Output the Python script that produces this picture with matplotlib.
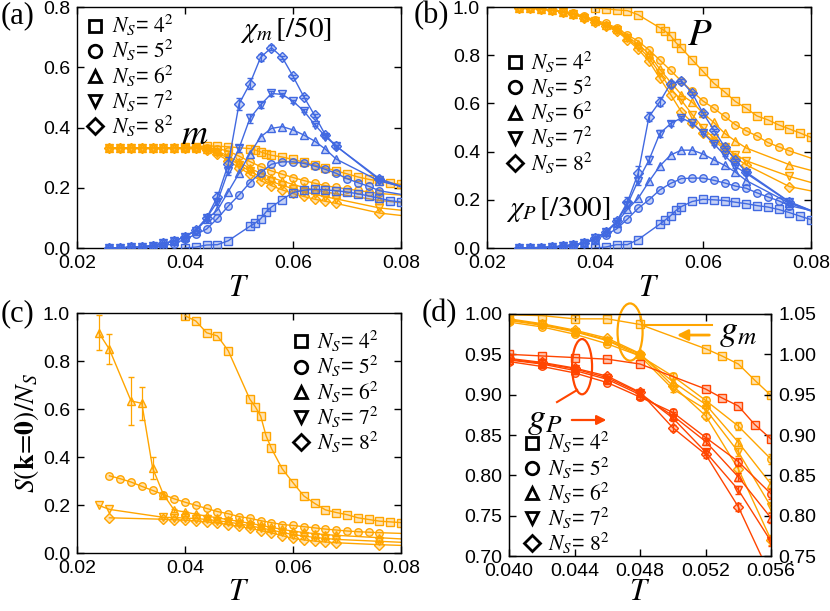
import matplotlib
matplotlib.use('Agg')
import matplotlib.pyplot as plt
from matplotlib.lines import Line2D
from matplotlib.patches import Ellipse
from matplotlib.colors import to_rgba

plt.rcParams['font.family'] = ['Liberation Sans', 'DejaVu Sans']
plt.rcParams['mathtext.fontset'] = 'stix'

ORANGE = '#FFA500'
BLUE = '#4169E1'
RED = '#FF4500'
SERIF = ['Liberation Serif', 'DejaVu Serif']

MARKERS = ['s', 'o', '^', 'v', 'D']
LEG_LABELS = [r'$N_S$= $4^2$', r'$N_S$= $5^2$', r'$N_S$= $6^2$',
              r'$N_S$= $7^2$', r'$N_S$= $8^2$']

# ---- temperature grids ----
T_4 = [0.040, 0.042, 0.044, 0.046, 0.048, 0.052, 0.053, 0.054, 0.055, 0.056,
       0.058, 0.060, 0.062, 0.064, 0.066, 0.068, 0.070, 0.072, 0.074, 0.076,
       0.078, 0.080]
T_5 = [0.026, 0.028, 0.030, 0.032, 0.034, 0.036, 0.038, 0.040, 0.042, 0.044,
       0.046, 0.048, 0.050, 0.052, 0.054, 0.056, 0.058, 0.060, 0.062, 0.064,
       0.066, 0.068, 0.070, 0.072, 0.074, 0.076, 0.084]
T_big = [0.026, 0.028, 0.030, 0.032, 0.034, 0.036, 0.038, 0.040, 0.042, 0.044,
         0.046, 0.048, 0.050, 0.052, 0.054, 0.056, 0.058, 0.060, 0.062, 0.064,
         0.066, 0.068, 0.076, 0.084]

# ---- (a) m and chi_m/50 ----
m_4 = [0.334, 0.336, 0.339, 0.338, 0.336, 0.330, 0.325, 0.319, 0.313, 0.308,
       0.302, 0.294, 0.285, 0.276, 0.266, 0.256, 0.246, 0.236, 0.228, 0.222,
       0.216, 0.211]
m_5 = [0.333, 0.333, 0.333, 0.333, 0.333, 0.333, 0.333, 0.333, 0.333, 0.332,
       0.330, 0.322, 0.305, 0.287, 0.270, 0.256, 0.245, 0.234, 0.224, 0.215,
       0.207, 0.201, 0.196, 0.191, 0.186, 0.181, 0.170]
m_6 = [0.333, 0.333, 0.333, 0.333, 0.333, 0.333, 0.333, 0.333, 0.333, 0.330,
       0.322, 0.305, 0.285, 0.265, 0.248, 0.234, 0.222, 0.211, 0.201, 0.193,
       0.186, 0.180, 0.158, 0.143]
m_7 = [0.333, 0.333, 0.333, 0.333, 0.333, 0.333, 0.333, 0.333, 0.333, 0.328,
       0.316, 0.298, 0.277, 0.255, 0.236, 0.221, 0.208, 0.197, 0.187, 0.178,
       0.170, 0.163, 0.133, 0.118]
m_8 = [0.333, 0.333, 0.333, 0.333, 0.333, 0.333, 0.333, 0.333, 0.333, 0.326,
       0.311, 0.290, 0.267, 0.245, 0.224, 0.207, 0.193, 0.181, 0.171, 0.162,
       0.155, 0.148, 0.116, 0.100]

chi_4 = [0.000, 0.003, 0.010, 0.011, 0.024, 0.072, 0.083, 0.097, 0.120, 0.136,
         0.161, 0.184, 0.192, 0.195, 0.193, 0.190, 0.186, 0.180, 0.173, 0.165,
         0.157, 0.153]
chi_5 = [0.000, 0.001, 0.002, 0.003, 0.005, 0.008, 0.014, 0.030, 0.045, 0.063,
         0.098, 0.139, 0.176, 0.217, 0.250, 0.278, 0.286, 0.286, 0.281, 0.272,
         0.261, 0.248, 0.230, 0.217, 0.205, 0.190, 0.166]
chi_6 = [0.000, 0.001, 0.002, 0.004, 0.008, 0.015, 0.023, 0.038, 0.058, 0.095,
         0.126, 0.187, 0.248, 0.313, 0.369, 0.397, 0.403, 0.392, 0.375, 0.355,
         0.328, 0.295, 0.222, 0.188]
chi_7 = [0.000, 0.001, 0.002, 0.004, 0.008, 0.015, 0.023, 0.038, 0.058, 0.100,
         0.154, 0.256, 0.331, 0.430, 0.475, 0.513, 0.510, 0.487, 0.455, 0.410,
         0.370, 0.338, 0.226, 0.180]
chi_8 = [0.000, 0.001, 0.002, 0.004, 0.008, 0.015, 0.023, 0.038, 0.060, 0.100,
         0.170, 0.278, 0.478, 0.545, 0.633, 0.665, 0.633, 0.570, 0.502, 0.440,
         0.375, 0.338, 0.230, 0.180]
chi_7_err = [0, 0, 0, 0, 0, 0, 0, 0, 0, 0.005, 0.01, 0.015, 0.012, 0.015,
             0.01, 0.008, 0.006, 0.006, 0.005, 0.005, 0.005, 0.005, 0.004, 0]
chi_8_err = [0, 0, 0, 0, 0, 0, 0, 0, 0, 0.006, 0.015, 0.025, 0.02, 0.018,
             0.012, 0.008, 0.006, 0.006, 0.005, 0.005, 0.005, 0.005, 0.004, 0]

# ---- (b) P and chi_P/300 ----
P_4 = [0.996, 0.993, 0.988, 0.985, 0.968, 0.914, 0.900, 0.881, 0.852, 0.830,
       0.781, 0.733, 0.684, 0.648, 0.608, 0.580, 0.548, 0.532, 0.511, 0.494,
       0.477, 0.459]
P_5 = [0.998, 0.996, 0.993, 0.988, 0.982, 0.974, 0.962, 0.946, 0.932, 0.914,
       0.885, 0.858, 0.822, 0.780, 0.737, 0.692, 0.650, 0.610, 0.580, 0.546,
       0.512, 0.486, 0.465, 0.438, 0.420, 0.403, 0.343]
P_6 = [0.998, 0.996, 0.992, 0.987, 0.980, 0.971, 0.958, 0.942, 0.926, 0.908,
       0.876, 0.846, 0.805, 0.742, 0.688, 0.636, 0.605, 0.560, 0.521, 0.476,
       0.444, 0.415, 0.346, 0.298]
P_7 = [0.998, 0.996, 0.992, 0.987, 0.980, 0.970, 0.956, 0.940, 0.923, 0.905,
       0.870, 0.835, 0.790, 0.725, 0.662, 0.613, 0.554, 0.498, 0.456, 0.418,
       0.388, 0.362, 0.297, 0.247]
P_8 = [0.998, 0.996, 0.992, 0.986, 0.979, 0.969, 0.955, 0.938, 0.920, 0.900,
       0.865, 0.825, 0.775, 0.705, 0.637, 0.565, 0.520, 0.478, 0.445, 0.410,
       0.375, 0.345, 0.255, 0.219]

cP_4 = [0.000, 0.004, 0.014, 0.014, 0.035, 0.099, 0.116, 0.134, 0.156, 0.172,
        0.193, 0.202, 0.200, 0.197, 0.190, 0.184, 0.176, 0.170, 0.160, 0.147,
        0.132, 0.118]
cP_5 = [0.000, 0.001, 0.002, 0.003, 0.006, 0.010, 0.020, 0.035, 0.055, 0.079,
        0.120, 0.165, 0.200, 0.241, 0.268, 0.288, 0.290, 0.290, 0.281, 0.270,
        0.257, 0.248, 0.229, 0.212, 0.196, 0.176, 0.135]
cP_6 = [0.000, 0.001, 0.002, 0.004, 0.008, 0.013, 0.022, 0.038, 0.065, 0.104,
        0.160, 0.206, 0.276, 0.340, 0.386, 0.406, 0.406, 0.390, 0.366, 0.343,
        0.315, 0.280, 0.186, 0.120]
cP_7 = [0.000, 0.001, 0.002, 0.004, 0.008, 0.013, 0.022, 0.040, 0.066, 0.108,
        0.180, 0.280, 0.365, 0.475, 0.516, 0.540, 0.518, 0.478, 0.433, 0.385,
        0.338, 0.310, 0.190, 0.120]
cP_8 = [0.000, 0.001, 0.002, 0.004, 0.008, 0.013, 0.022, 0.040, 0.066, 0.110,
        0.190, 0.310, 0.545, 0.607, 0.682, 0.693, 0.643, 0.560, 0.490, 0.420,
        0.365, 0.315, 0.192, 0.120]
cP_7_err = [0, 0, 0, 0, 0, 0, 0, 0, 0, 0.006, 0.012, 0.02, 0.015, 0.015,
            0.01, 0.008, 0.006, 0.006, 0.005, 0.005, 0.005, 0.005, 0.004, 0]
cP_8_err = [0, 0, 0, 0, 0, 0, 0, 0, 0, 0.008, 0.02, 0.03, 0.02, 0.018,
            0.012, 0.008, 0.006, 0.006, 0.005, 0.005, 0.005, 0.005, 0.004, 0]

# ---- (c) S(k=0)/N_S ----
T_c6 = [0.024, 0.026, 0.030, 0.032, 0.034, 0.036, 0.038, 0.040, 0.042, 0.044,
        0.046, 0.048, 0.050, 0.052, 0.054, 0.056, 0.058, 0.060, 0.062, 0.064,
        0.066, 0.068, 0.076, 0.084]
T_c7 = [0.024, 0.026, 0.036, 0.038, 0.040, 0.042, 0.044, 0.046, 0.048, 0.050,
        0.052, 0.054, 0.056, 0.058, 0.060, 0.062, 0.064, 0.066, 0.068, 0.076,
        0.084]
T_c8 = [0.026, 0.036, 0.038, 0.040, 0.042, 0.044, 0.046, 0.048, 0.050, 0.052,
        0.054, 0.056, 0.058, 0.060, 0.062, 0.064, 0.066, 0.068, 0.076, 0.084]
S_4 = [0.990, 0.968, 0.919, 0.906, 0.844, 0.642, 0.611, 0.572, 0.490, 0.437,
       0.352, 0.294, 0.239, 0.208, 0.181, 0.170, 0.161, 0.148, 0.141, 0.134,
       0.131, 0.128]
S_5 = [0.323, 0.311, 0.297, 0.279, 0.262, 0.245, 0.227, 0.213, 0.200, 0.187,
       0.174, 0.165, 0.153, 0.146, 0.136, 0.128, 0.120, 0.116, 0.111, 0.106,
       0.101, 0.097, 0.093, 0.090, 0.088, 0.086, 0.080]
S_6 = [0.920, 0.850, 0.635, 0.625, 0.355, 0.245, 0.180, 0.172, 0.163, 0.155,
       0.148, 0.140, 0.133, 0.125, 0.117, 0.108, 0.100, 0.092, 0.087, 0.082,
       0.078, 0.075, 0.065, 0.055]
S_6_err = [0.073, 0.062, 0.100, 0.068, 0.045, 0.010, 0.006, 0.004, 0.004,
           0.004, 0.003, 0.003, 0.003, 0.003, 0.003, 0.003, 0.003, 0.003,
           0.003, 0.003, 0.003, 0.003, 0.003, 0]
S_7 = [0.200, 0.183, 0.150, 0.149, 0.147, 0.145, 0.141, 0.136, 0.130, 0.123,
       0.115, 0.106, 0.097, 0.087, 0.078, 0.072, 0.066, 0.062, 0.058, 0.050,
       0.042]
S_8 = [0.148, 0.142, 0.140, 0.138, 0.135, 0.131, 0.126, 0.120, 0.112, 0.104,
       0.095, 0.085, 0.074, 0.062, 0.056, 0.051, 0.047, 0.044, 0.036, 0.030]

# ---- (d) Binder ratios: g_m on left axis, g_P on right axis ----
T_d4 = [0.040, 0.042, 0.044, 0.046, 0.048, 0.052, 0.053, 0.054, 0.055, 0.056]
T_d = [0.040, 0.042, 0.044, 0.046, 0.048, 0.050, 0.052, 0.054, 0.056]
gm_4 = [0.999, 0.998, 0.994, 0.994, 0.987, 0.957, 0.948, 0.938, 0.918, 0.899]
gm_5 = [0.990, 0.984, 0.975, 0.963, 0.948, 0.923, 0.893, 0.861, 0.820]
gm_6 = [0.993, 0.987, 0.979, 0.968, 0.950, 0.916, 0.888, 0.841, 0.789]
gm_7 = [0.992, 0.986, 0.978, 0.967, 0.948, 0.907, 0.882, 0.829, 0.761]
gm_8 = [0.994, 0.988, 0.980, 0.970, 0.951, 0.911, 0.874, 0.808, 0.720]
gP_4 = [1.000, 0.998, 0.996, 0.994, 0.988, 0.957, 0.946, 0.936, 0.913, 0.895]
gP_5 = [0.991, 0.985, 0.977, 0.965, 0.947, 0.928, 0.897, 0.867, 0.827]
gP_6 = [0.993, 0.988, 0.980, 0.969, 0.950, 0.924, 0.892, 0.848, 0.797]
gP_7 = [0.994, 0.989, 0.982, 0.971, 0.952, 0.921, 0.879, 0.832, 0.768]
gP_8 = [0.995, 0.990, 0.983, 0.973, 0.953, 0.909, 0.876, 0.811, 0.724]
g_err = [0.001, 0.001, 0.002, 0.002, 0.003, 0.004, 0.004, 0.005, 0.006]


def draw(ax, T, y, color, marker, yerr=None, z=2):
    ms = 4.6 if marker == 'D' else 5.4
    ax.errorbar(T, y, yerr=yerr, color=color, marker=marker, ms=ms,
                mfc=to_rgba(color, 0.3), mec=color, mew=1.0, lw=1.0,
                capsize=2.5, elinewidth=0.9, zorder=z)


def style(ax, xticks, yticks, xfmt, yfmt, labelpad=1):
    ax.set_xticks(xticks)
    ax.set_yticks(yticks)
    ax.set_xticklabels([xfmt % v for v in xticks])
    ax.set_yticklabels([yfmt % v for v in yticks])
    ax.tick_params(direction='in', top=True, right=True, length=5, width=1,
                   labelsize=14, pad=5)
    for s in ax.spines.values():
        s.set_linewidth(1.0)
    ax.set_xlabel('$T$', fontsize=22, labelpad=labelpad)


def legend(ax, anchor):
    handles = [Line2D([], [], ls='none', marker=m, color='k', mfc='none',
                      mew=2, ms=9 if m != 'D' else 8) for m in MARKERS]
    ax.legend(handles, LEG_LABELS, loc='upper left', bbox_to_anchor=anchor,
              frameon=False, fontsize=15.5, handlelength=0.8,
              handletextpad=0.35, labelspacing=0.0, borderpad=0,
              borderaxespad=0)


fig = plt.figure(figsize=(8.3, 6.11), dpi=100)
ax_a = fig.add_axes([0.0928, 0.5941, 0.3904, 0.3944])
ax_b = fig.add_axes([0.5867, 0.5941, 0.3904, 0.3944])
ax_c = fig.add_axes([0.0928, 0.0944, 0.3904, 0.3928])
ax_d = fig.add_axes([0.6133, 0.0900, 0.3157, 0.3961])

Tticks = [0.02, 0.04, 0.06, 0.08]

# (a)
for T, y, mk in zip([T_4, T_5, T_big, T_big, T_big],
                    [m_4, m_5, m_6, m_7, m_8], MARKERS):
    draw(ax_a, T, y, ORANGE, mk)
for T, y, e, mk in zip([T_4, T_5, T_big, T_big, T_big],
                       [chi_4, chi_5, chi_6, chi_7, chi_8],
                       [None, None, None, chi_7_err, chi_8_err], MARKERS):
    draw(ax_a, T, y, BLUE, mk, e, z=3)
ax_a.set_xlim(0.02, 0.08)
ax_a.set_ylim(0, 0.8)
style(ax_a, Tticks, [0, 0.2, 0.4, 0.6, 0.8], '%.2f', '%.1f')
legend(ax_a, (0.03, 0.975))
ax_a.text(0.645, 0.905, r'$\chi_m\,[/50]$', transform=ax_a.transAxes,
          fontsize=21, ha='center', va='center')
ax_a.text(0.364, 0.47, r'$m$', transform=ax_a.transAxes, fontsize=26,
          ha='center', va='center')

# (b)
for T, y, mk in zip([T_4, T_5, T_big, T_big, T_big],
                    [P_4, P_5, P_6, P_7, P_8], MARKERS):
    draw(ax_b, T, y, ORANGE, mk)
for T, y, e, mk in zip([T_4, T_5, T_big, T_big, T_big],
                       [cP_4, cP_5, cP_6, cP_7, cP_8],
                       [None, None, None, cP_7_err, cP_8_err], MARKERS):
    draw(ax_b, T, y, BLUE, mk, e, z=3)
ax_b.set_xlim(0.02, 0.08)
ax_b.set_ylim(0, 1.0)
style(ax_b, Tticks, [0, 0.2, 0.4, 0.6, 0.8, 1.0], '%.2f', '%.1f')
legend(ax_b, (0.06, 0.823))
ax_b.text(0.657, 0.884, r'$P$', transform=ax_b.transAxes, fontsize=28,
          ha='center', va='center')
ax_b.text(0.22, 0.158, r'$\chi_P\,[/300]$', transform=ax_b.transAxes,
          fontsize=21, ha='center', va='center')

# (c)
for T, y, e, mk in zip([T_4, T_5, T_c6, T_c7, T_c8],
                       [S_4, S_5, S_6, S_7, S_8],
                       [None, None, S_6_err, None, None], MARKERS):
    draw(ax_c, T, y, ORANGE, mk, e)
ax_c.set_xlim(0.02, 0.08)
ax_c.set_ylim(0, 1.0)
style(ax_c, Tticks, [0, 0.2, 0.4, 0.6, 0.8, 1.0], '%.2f', '%.1f', labelpad=0)
legend(ax_c, (0.665, 0.935))
ax_c.set_ylabel(r'$S(\mathbf{k}\!=\!\mathbf{0})/N_S$', fontsize=20,
                labelpad=1)

# (d)
ax_d2 = ax_d.twinx()
for T, y, e, mk in zip([T_d4, T_d, T_d, T_d, T_d],
                       [gm_4, gm_5, gm_6, gm_7, gm_8],
                       [None, g_err, g_err, g_err, g_err], MARKERS):
    draw(ax_d, T, y, ORANGE, mk, e)
for T, y, e, mk in zip([T_d4, T_d, T_d, T_d, T_d],
                       [gP_4, gP_5, gP_6, gP_7, gP_8],
                       [None, g_err, g_err, g_err, g_err], MARKERS):
    draw(ax_d2, T, y, RED, mk, e)
ax_d.set_xlim(0.040, 0.056)
ax_d.set_ylim(0.70, 1.00)
ax_d2.set_ylim(0.75, 1.05)
dticks = [0.040, 0.044, 0.048, 0.052, 0.056]
style(ax_d, dticks, [0.70, 0.75, 0.80, 0.85, 0.90, 0.95, 1.00], '%.3f', '%.2f',
      labelpad=-2)
ax_d.tick_params(right=False)
rt = [0.75, 0.80, 0.85, 0.90, 0.95, 1.00, 1.05]
ax_d2.set_yticks(rt)
ax_d2.set_yticklabels(['%.2f' % v for v in rt])
ax_d2.tick_params(direction='in', length=5, width=1, labelsize=14, pad=5)
legend(ax_d, (0.055, 0.52))

ax_d.text(0.874, 0.926, r'$g_m$', transform=ax_d.transAxes, fontsize=26,
          ha='center', va='center')
ax_d.text(0.137, 0.565, r'$g_P$', transform=ax_d.transAxes, fontsize=26,
          ha='center', va='center')
ax_d.plot([0.508, 0.775], [0.955, 0.955], color=ORANGE, lw=1.5,
          transform=ax_d.transAxes, clip_on=False)
ax_d.annotate('', xy=(0.63, 0.913), xytext=(0.775, 0.913),
              xycoords='axes fraction',
              arrowprops=dict(arrowstyle='-|>', color=ORANGE, lw=2,
                              mutation_scale=16))
ax_d.annotate('', xy=(0.382, 0.562), xytext=(0.229, 0.562),
              xycoords='axes fraction',
              arrowprops=dict(arrowstyle='-|>', color=RED, lw=1.6,
                              mutation_scale=14))
ax_d.plot([0.26, 0.183], [0.686, 0.636], color=RED, lw=1.5,
          transform=ax_d.transAxes)
ax_d.add_patch(Ellipse((0.04739, 0.9776), 0.00153, 0.071, fill=False,
                       ec=ORANGE, lw=1.6, clip_on=False, zorder=5))
ax_d.add_patch(Ellipse((0.04446, 0.9347), 0.00122, 0.0685, fill=False,
                       ec=RED, lw=1.6, clip_on=False, zorder=5))

# panel labels
for x, y, s in [(0.001, 0.998, '(a)'), (0.498, 0.998, '(b)'),
                (0.001, 0.511, '(c)'), (0.508, 0.511, '(d)')]:
    fig.text(x, y, s, fontsize=22, family=SERIF, ha='left', va='top')

fig.savefig('out.png', dpi=100)
